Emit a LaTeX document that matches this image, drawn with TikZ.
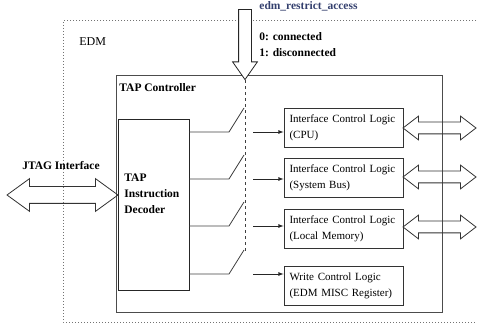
\documentclass[tikz,border=0pt]{standalone}
\usepackage{fontspec}
\setmainfont{Liberation Serif}
\usetikzlibrary{arrows,positioning,shapes.arrows}
\definecolor{sigblue}{HTML}{34406E}

\begin{document}
\begin{tikzpicture}[x=1pt,y=-1pt,line width=0.8pt,
  logic/.style={draw=black!80,minimum width=119pt,minimum height=39pt,inner xsep=5.5pt,text width=108pt,align=left,font=\fontsize{11}{16}\selectfont},
  bus/.style={draw=black!80,double arrow,minimum height=73pt,inner sep=5.5pt,double arrow head extend=6pt,double arrow tip angle=75},
  lbl/.style={font=\fontsize{11.5}{16}\selectfont\bfseries,inner sep=0pt}]
\useasboundingbox (0,0) rectangle (500,336);
\draw[black!55,dotted,line width=1pt] (476,21) -- (63,21) -- (63,322) -- (476,322);
\node (tap) [draw=black!70,minimum width=326pt,minimum height=237pt,inner sep=0pt] at (279,193.5) {};
\node (dec) [draw=black!85,minimum width=71pt,minimum height=171pt,inner sep=0pt] at (153.5,204.5) {};
\node (restrict) [draw=black!85,fill=white,single arrow,rotate=-90,minimum height=70pt,inner sep=6pt,single arrow head extend=6pt,single arrow tip angle=70] at (245,40) {};
\node (edm) [anchor=west,inner sep=0pt,font=\fontsize{12}{14}\selectfont] at (79,42) {EDM};
\node (sig) [lbl,anchor=west,text=sigblue] at (259,6) {edm\_restrict\_access};
\node (st0) [lbl,anchor=west] at (259,37) {0: connected};
\node (st1) [lbl,anchor=west] at (259,53) {1: disconnected};
\node (tapl) [lbl,anchor=west] at (119,88) {TAP Controller};
\node (decl) [lbl,anchor=west,align=left] at (124,194) {TAP\\Instruction\\Decoder};
\node (jtagl) [lbl] at (61,166) {JTAG Interface};
\node (jtag) [draw=black!80,double arrow,minimum height=111pt,inner sep=8pt,double arrow head extend=8pt,double arrow tip angle=72] at (62.5,195) {};
\node (cpu) [logic] at (343.5,127.5) {Interface Control Logic\\(CPU)};
\node (sbus) [logic] at (343.5,178) {Interface Control Logic\\(System Bus)};
\node (lmem) [logic] at (343.5,229) {Interface Control Logic\\(Local Memory)};
\node (misc) [logic] at (343.5,286) {Write Control Logic\\(EDM MISC Register)};
\node (cpubus) [bus] at (439.5,128) {};
\node (sbusbus) [bus] at (439.5,177) {};
\node (lmembus) [bus] at (439.5,227) {};
\coordinate (dashend) at (245,252);
\draw[black!75,dashed] (restrict.tip) -- (dashend);
\foreach \y/\b in {132/cpu,179/sbus,226/lmem,274/misc}{
  \coordinate (sw-\b) at (229,\y);
  \coordinate (out-\b) at (253,\y);
  \draw[black!75] (dec.east |- sw-\b) -- (sw-\b) -- ++(15,-24);
  \draw[-latex,black!85] (out-\b) -- (\b.west |- out-\b);
}
\end{tikzpicture}
\end{document}
